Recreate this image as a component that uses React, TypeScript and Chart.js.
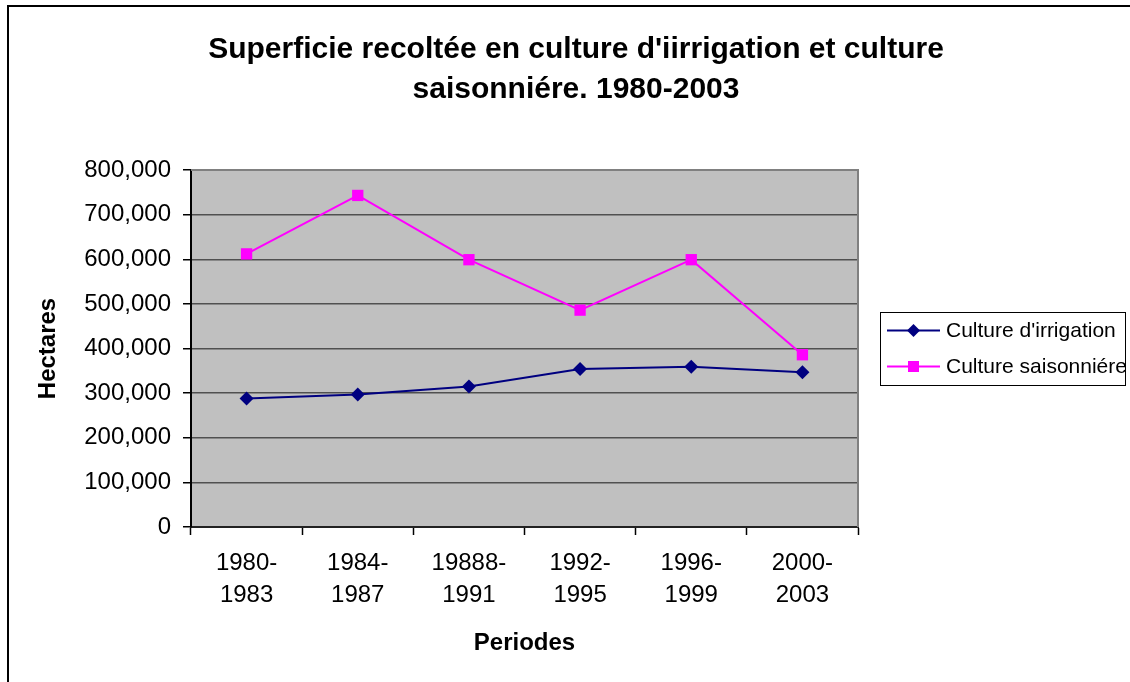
import React, { useEffect, useRef } from "react";
import { Chart, registerables } from "chart.js";

Chart.register(...registerables);

const chartTitle = ["Superficie recoltée en culture d'iirrigation et culture", "saisonniére. 1980-2003"];
const xAxisTitle = "Periodes";
const yAxisTitle = "Hectares";
const periodStarts = ["1980-", "1984-", "19888-", "1992-", "1996-", "2000-"];
const periodEnds = ["1983", "1987", "1991", "1995", "1999", "2003"];
const irrigationValues = [288000, 297000, 315000, 354000, 359000, 347000];
const saisonniereValues = [612000, 743000, 599000, 486000, 599000, 386000];
const seriesNames = ["Culture d'irrigation", "Culture saisonniére"];
const yTickMin = 0;
const yTickMax = 800000;
const yTickStep = 100000;

const FONT = "'Liberation Sans', Arial, sans-serif";

const framePlugin = {
  id: "frame",
  beforeDraw(chart: any) {
    const { ctx, chartArea, width, height } = chart;
    ctx.save();
    ctx.fillStyle = "#ffffff";
    ctx.fillRect(0, 0, width, height);
    ctx.strokeStyle = "#000000";
    ctx.lineWidth = 2;
    ctx.strokeRect(8, 6, width + 20, height + 20);
    ctx.fillStyle = "#C0C0C0";
    ctx.fillRect(chartArea.left, chartArea.top, chartArea.right - chartArea.left, chartArea.bottom - chartArea.top);
    ctx.restore();
  },
  beforeDatasetsDraw(chart: any) {
    const { ctx, chartArea } = chart;
    ctx.save();
    ctx.strokeStyle = "#808080";
    ctx.lineWidth = 2;
    ctx.beginPath();
    ctx.moveTo(chartArea.left, chartArea.top);
    ctx.lineTo(chartArea.right, chartArea.top);
    ctx.lineTo(chartArea.right, chartArea.bottom);
    ctx.stroke();
    ctx.restore();
  },
  afterDraw(chart: any) {
    const { ctx, chartArea } = chart;
    const boxLeft = chartArea.right + 22;
    const boxWidth = 245;
    const rowH = 36;
    const boxHeight = 73;
    const boxTop = (chartArea.top + chartArea.bottom) / 2 - boxHeight / 2;
    ctx.save();
    ctx.fillStyle = "#ffffff";
    ctx.fillRect(boxLeft, boxTop, boxWidth, boxHeight);
    ctx.strokeStyle = "#000000";
    ctx.lineWidth = 1;
    ctx.strokeRect(boxLeft + 0.5, boxTop + 0.5, boxWidth, boxHeight);
    chart.data.datasets.forEach((ds: any, i: number) => {
      const y = boxTop + 18.5 + i * rowH;
      const x0 = boxLeft + 7;
      const x1 = boxLeft + 60;
      const cx = (x0 + x1) / 2;
      ctx.strokeStyle = ds.borderColor;
      ctx.lineWidth = 2;
      ctx.beginPath();
      ctx.moveTo(x0, y);
      ctx.lineTo(x1, y);
      ctx.stroke();
      ctx.fillStyle = ds.backgroundColor;
      ctx.beginPath();
      if (ds.pointStyle === "rectRot") {
        const r = 6.5;
        ctx.moveTo(cx - r, y);
        ctx.lineTo(cx, y - r);
        ctx.lineTo(cx + r, y);
        ctx.lineTo(cx, y + r);
        ctx.closePath();
      } else {
        ctx.rect(cx - 5.5, y - 5.5, 11, 11);
      }
      ctx.fill();
      ctx.fillStyle = "#000000";
      ctx.font = `21px ${FONT}`;
      ctx.textAlign = "left";
      ctx.textBaseline = "middle";
      ctx.fillText(ds.label, boxLeft + 66, y + 1);
    });
    ctx.restore();
  },
};

export default function App() {
  const canvasRef = useRef<HTMLCanvasElement | null>(null);

  useEffect(() => {
    const canvas = canvasRef.current;
    if (!canvas) return;
    const labels = periodStarts.map((s, i) => [s, periodEnds[i]]);
    const chart = new Chart(canvas, {
      type: "line",
      data: {
        labels,
        datasets: [
          {
            label: seriesNames[0],
            data: irrigationValues,
            borderColor: "#000080",
            backgroundColor: "#000080",
            borderWidth: 2,
            pointStyle: "rectRot",
            pointRadius: 7,
            pointBorderWidth: 0,
            tension: 0,
            yAxisID: "y",
          },
          {
            label: seriesNames[1],
            data: saisonniereValues,
            borderColor: "#FF00FF",
            backgroundColor: "#FF00FF",
            borderWidth: 2,
            pointStyle: "rect",
            pointRadius: 8,
            pointBorderWidth: 0,
            tension: 0,
            yAxisID: "y",
          },
        ],
      },
      options: {
        responsive: false,
        animation: false,
        layout: { padding: { left: 22, right: 0, top: 0, bottom: 0 } },
        plugins: {
          legend: { display: false },
          tooltip: { enabled: false },
          title: {
            display: true,
            text: chartTitle,
            color: "#000000",
            font: { family: FONT, size: 30, weight: "bold", lineHeight: 40 / 30 },
            padding: { top: 30, bottom: 60 },
          },
        },
        scales: {
          x: {
            type: "category",
            offset: true,
            grid: {
              offset: true,
              drawOnChartArea: false,
              tickLength: 8,
              tickColor: "#000000",
              tickWidth: 1.5,
            },
            border: { color: "#222222", width: 2 },
            ticks: {
              color: "#000000",
              padding: 12,
              maxRotation: 0,
              autoSkip: false,
              font: { family: FONT, size: 24, lineHeight: 32.5 / 24 },
            },
            title: {
              display: true,
              text: xAxisTitle,
              color: "#000000",
              font: { family: FONT, size: 24, weight: "bold", lineHeight: 1.2 },
              padding: { top: 0, bottom: 24.6 },
            },
            afterFit(scale: any) {
              scale.height = 155;
            },
          },
          y: {
            type: "linear",
            position: "left",
            min: yTickMin,
            max: yTickMax,
            grid: {
              color: "#505050",
              lineWidth: 1.5,
              tickLength: 8,
              tickColor: "#000000",
              tickWidth: 1.5,
            },
            border: { color: "#000000", width: 2 },
            ticks: {
              stepSize: yTickStep,
              color: "#000000",
              padding: 12,
              font: { family: FONT, size: 24 },
              callback: (v: any) => Number(v).toLocaleString("en-US"),
            },
            title: {
              display: true,
              text: yAxisTitle,
              color: "#000000",
              font: { family: FONT, size: 24, weight: "bold", lineHeight: 1.2 },
              padding: { top: 11.6, bottom: 0 },
            },
            afterFit(scale: any) {
              scale.width = 169;
            },
          },
          legendSpace: {
            type: "linear",
            position: "right",
            display: true,
            grid: { display: false, drawTicks: false },
            border: { display: false },
            ticks: { display: false },
            afterFit(scale: any) {
              scale.width = 272;
            },
          },
        },
      },
      plugins: [framePlugin],
    } as any);
    return () => chart.destroy();
  }, []);

  return (
    <div style={{ position: "absolute", left: 0, top: 0, width: 1130, height: 682 }}>
      <canvas ref={canvasRef} width={1130} height={682} style={{ display: "block", width: 1130, height: 682 }} />
    </div>
  );
}
